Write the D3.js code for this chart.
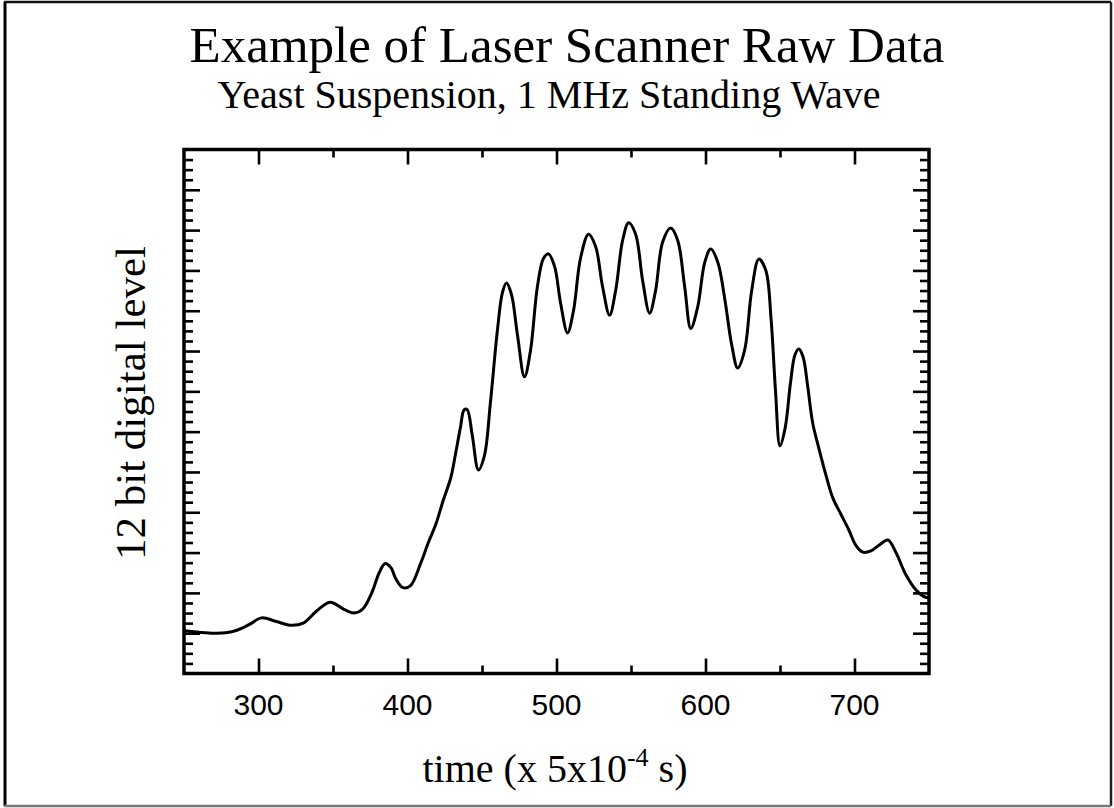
<!DOCTYPE html>
<html>
<head>
<meta charset="utf-8">
<script src="https://cdn.jsdelivr.net/npm/d3@7"></script>
<style>
  html, body { margin: 0; padding: 0; background: #fff; }
  svg { display: block; }
</style>
</head>
<body>
<svg id="chart" width="1114" height="808"></svg>
<script>
// Scan time (units of 5x10^-4 s)
const timeValues = [
  250, 261, 270, 278, 286, 294, 302, 312, 321, 330,
  339, 348, 357, 364, 370, 376, 381, 385, 389, 392,
  397, 402, 409, 414, 419, 424, 429, 432, 435.5, 438,
  440, 443.5, 447.6, 451.6, 455.6, 460.3, 463.7, 466.4, 469.8, 473.8,
  478.5, 482.5, 487.2, 491.3, 494.6, 498.7, 502.7, 507.4, 511.4, 516.1,
  521.5, 526.2, 530.9, 535.6, 539.7, 544.4, 548.4, 553.1, 557.8, 562.5,
  566.5, 571.2, 576.6, 581.3, 586, 590.1, 594.8, 599.5, 603.5, 608.2,
  612.9, 617.6, 621.6, 626.3, 631, 635.8, 640.5, 644, 647, 650,
  653.5, 657, 660, 662.6, 665.5, 668.5, 672, 676, 681, 685.5,
  690.9, 696.2, 700.9, 705.6, 711, 716.4, 722.4, 727.8, 734.5, 741.3,
  746, 750
];

// 12 bit digital level read at each time
const levelValues = [
  106, 102, 100, 101, 108, 122, 138, 129, 120, 125,
  155, 177, 160, 150, 160, 200, 250, 273, 262, 236,
  213, 218, 275, 325, 370, 430, 485, 540, 610, 654,
  655, 590, 505, 540, 670, 850, 945, 969, 940, 840,
  736, 800, 960, 1030, 1041, 1010, 920, 845, 900, 1030,
  1090, 1060, 960, 889, 950, 1075, 1118, 1090, 975, 894,
  950, 1070, 1105, 1075, 960, 856, 910, 1020, 1053, 1021,
  930, 815, 758, 803, 950, 1028, 1000, 880, 700, 565,
  610, 720, 790, 805, 785, 715, 620, 560, 490, 435,
  395, 356, 318, 301, 304, 318, 331, 300, 245, 207,
  192, 187
];

const xMajorTicks = [300, 400, 500, 600, 700];
const xMinorTicks = [350, 450, 550, 650];
const xTickLabels = ["300", "400", "500", "600", "700"];
const yMajorTicks = d3.range(0, 1301, 100);
const yMinorTicks = d3.range(0, 1301, 25).filter(v => v % 100 !== 0);

const titleText = "Example of Laser Scanner Raw Data";
const subtitleText = "Yeast Suspension, 1 MHz Standing Wave";
const yLabelText = "12 bit digital level";

const svg = d3.select("#chart");
const plot = { left: 184, right: 929, top: 149.5, bottom: 673.5 };

const x = d3.scaleLinear().domain([250, 750]).range([plot.left, plot.right]);
const y = d3.scaleLinear().domain([0, 1300]).range([plot.bottom, plot.top]);

const serif = "'Liberation Serif', 'Times New Roman', serif";
const sans = "'Liberation Sans', Arial, sans-serif";

// page border
const border = svg.append("g").attr("fill", "none");
border.append("line").attr("x1", 5).attr("y1", 2).attr("x2", 5).attr("y2", 806)
  .attr("stroke", "#000").attr("stroke-width", 3);
border.append("line").attr("x1", 4).attr("y1", 2).attr("x2", 1111).attr("y2", 2)
  .attr("stroke", "#111").attr("stroke-width", 2.5);
border.append("line").attr("x1", 1111).attr("y1", 2).attr("x2", 1111).attr("y2", 806)
  .attr("stroke", "#222").attr("stroke-width", 2.5);
border.append("line").attr("x1", 4).attr("y1", 806).attr("x2", 1111).attr("y2", 806)
  .attr("stroke", "#777").attr("stroke-width", 2.5);

// titles
svg.append("text").attr("x", 567).attr("y", 62)
  .attr("text-anchor", "middle").attr("font-family", serif).attr("font-size", 51)
  .text(titleText);
svg.append("text").attr("x", 549).attr("y", 108)
  .attr("text-anchor", "middle").attr("font-family", serif).attr("font-size", 40)
  .text(subtitleText);

// axes: ticks pointing inward on all four sides
function styleAxis(g) {
  g.select(".domain").remove();
  g.selectAll(".tick line").attr("stroke", "#000").attr("stroke-width", 2.6);
  g.selectAll(".tick text").remove();
}

// left
svg.append("g").attr("transform", `translate(${plot.left},0)`)
  .call(d3.axisRight(y).tickValues(yMinorTicks).tickSize(9)).call(styleAxis);
svg.append("g").attr("transform", `translate(${plot.left},0)`)
  .call(d3.axisRight(y).tickValues(yMajorTicks.slice(1, -1)).tickSize(16)).call(styleAxis);
// right
svg.append("g").attr("transform", `translate(${plot.right},0)`)
  .call(d3.axisLeft(y).tickValues(yMinorTicks).tickSize(9)).call(styleAxis);
svg.append("g").attr("transform", `translate(${plot.right},0)`)
  .call(d3.axisLeft(y).tickValues(yMajorTicks.slice(1, -1)).tickSize(16)).call(styleAxis);
// bottom
svg.append("g").attr("transform", `translate(0,${plot.bottom})`)
  .call(d3.axisTop(x).tickValues(xMajorTicks).tickSize(15)).call(styleAxis);
svg.append("g").attr("transform", `translate(0,${plot.bottom})`)
  .call(d3.axisTop(x).tickValues(xMinorTicks).tickSize(8)).call(styleAxis);
// top
svg.append("g").attr("transform", `translate(0,${plot.top})`)
  .call(d3.axisBottom(x).tickValues(xMajorTicks).tickSize(15)).call(styleAxis);
svg.append("g").attr("transform", `translate(0,${plot.top})`)
  .call(d3.axisBottom(x).tickValues(xMinorTicks).tickSize(8)).call(styleAxis);

// frame
svg.append("rect")
  .attr("x", plot.left).attr("y", plot.top)
  .attr("width", plot.right - plot.left).attr("height", plot.bottom - plot.top)
  .attr("fill", "none").attr("stroke", "#000").attr("stroke-width", 3.5);

// x tick labels
svg.append("g").selectAll("text").data(xMajorTicks).join("text")
  .attr("x", d => x(d)).attr("y", 715)
  .attr("text-anchor", "middle").attr("font-family", sans).attr("font-size", 30)
  .text((d, i) => xTickLabels[i]);

// axis titles
const xl = svg.append("text").attr("x", 555).attr("y", 782)
  .attr("text-anchor", "middle").attr("font-family", serif).attr("font-size", 40);
xl.append("tspan").text("time (x 5x10");
xl.append("tspan").attr("font-size", 26).attr("dy", -16).text("-4");
xl.append("tspan").attr("dy", 16).text(" s)");

svg.append("text")
  .attr("transform", "translate(145,403) rotate(-90)")
  .attr("text-anchor", "middle").attr("font-family", serif).attr("font-size", 43)
  .text(yLabelText);

// signal trace
const pts = timeValues.map((t, i) => [t, levelValues[i]]);
const line = d3.line().x(d => x(d[0])).y(d => y(d[1])).curve(d3.curveCatmullRom.alpha(0.5));
svg.append("path").datum(pts)
  .attr("d", line)
  .attr("fill", "none").attr("stroke", "#000").attr("stroke-width", 3)
  .attr("stroke-linejoin", "round");
</script>
</body>
</html>
